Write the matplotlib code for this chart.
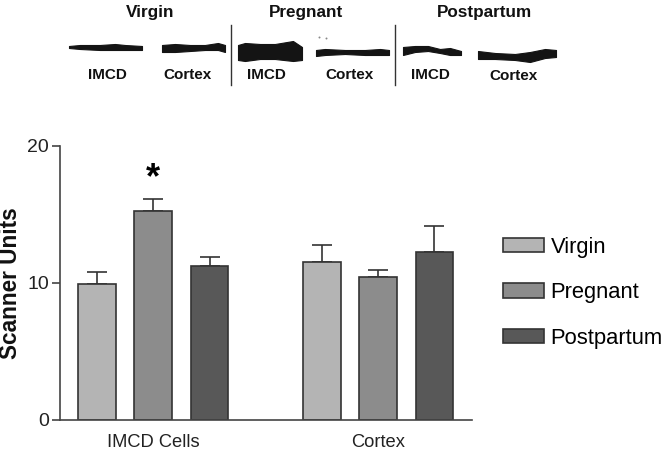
import numpy as np
from matplotlib import pyplot as plt

plt.rcParams['font.family'] = ['Liberation Sans', 'DejaVu Sans']

series = ['Virgin', 'Pregnant', 'Postpartum']
groups = ['IMCD Cells', 'Cortex']
colors = ['#b4b4b4', '#8c8c8c', '#585858']
positions = [[0, 4], [1, 5], [2, 6]]
means = [[9.9, 11.5], [15.2, 10.4], [11.25, 12.25]]
errors = [[0.85, 1.25], [0.9, 0.5], [0.6, 1.85]]
yticks = [0, 10, 20]

blot_x = [
    [69, 80, 100, 115, 125, 142],
    [162, 175, 190, 205, 218, 225],
    [238, 245, 260, 275, 293, 302],
    [316, 325, 345, 365, 380, 389],
    [403, 415, 428, 440, 450, 461],
    [478, 495, 515, 530, 545, 556],
]
blot_top = [
    [46, 45, 45, 44, 45, 46],
    [45, 44, 45, 45, 43, 45],
    [45, 43, 44, 44, 41, 47],
    [50, 49, 50, 50, 49, 50],
    [47, 46, 46, 49, 48, 51],
    [51, 53, 54, 52, 49, 50],
]
blot_bottom = [
    [48, 49, 50, 50, 50, 50],
    [52, 52, 51, 50, 50, 52],
    [60, 61, 59, 59, 61, 60],
    [56, 55, 54, 55, 55, 55],
    [55, 52, 51, 53, 55, 55],
    [59, 59, 60, 62, 58, 57],
]
speck_x = [319, 326]
speck_y = [37, 38]
blot_labels = ['IMCD', 'Cortex', 'IMCD', 'Cortex', 'IMCD', 'Cortex']
blot_label_x = [107, 187, 266, 349, 430, 513]
blot_label_y = [75, 75, 75, 75, 75, 76]
strip_titles = ['Virgin', 'Pregnant', 'Postpartum']
strip_title_x = [150, 306, 484]
divider_x = [231, 395]

fig = plt.figure(figsize=(6.63, 4.51), dpi=100)

'''Bar chart'''
ax = fig.add_axes([60/663, 1 - 420/451, 412/663, 274.5/451])
for i in range(3):
    ax.bar(positions[i], means[i], width=0.67, color=colors[i], edgecolor='#333333',
           linewidth=1.2, label=series[i], zorder=2)
    ax.errorbar(positions[i], means[i], yerr=[np.zeros(2), errors[i]], fmt='none',
                ecolor='#333333', elinewidth=1.2, capsize=7, capthick=1.2, zorder=1)

ax.set_xlim(-0.658, 6.667)
ax.set_ylim(0, 20)
ax.set_yticks(yticks)
ax.set_xticks([1, 5], groups, fontsize=13.2, color='#222222')
ax.tick_params(axis='x', length=0, pad=10)
ax.tick_params(axis='y', labelsize=14, length=6, width=1.2, color='#444444',
               labelcolor='#222222', pad=2)
ax.spines['top'].set_visible(False)
ax.spines['right'].set_visible(False)
ax.spines['left'].set_color('#444444')
ax.spines['bottom'].set_color('#444444')
ax.spines['left'].set_linewidth(1.2)
ax.spines['bottom'].set_linewidth(1.2)
ax.set_ylabel('Scanner Units', fontsize=16.3, fontweight='bold', color='#111111')
ax.yaxis.set_label_coords(-38/412, 0.5)
ax.legend(loc='upper left', bbox_to_anchor=(503/663, 1 - 236.5/451), bbox_transform=fig.transFigure,
          frameon=False, fontsize=15.8, handlelength=1.87, handleheight=0.64,
          handletextpad=0.3, labelspacing=1.12, borderpad=0, borderaxespad=0)
ax.text(1, 17.6, '*', fontsize=26, fontweight='bold', ha='center', va='center')

'''Blot strip, drawn in image pixels'''
top = fig.add_axes([0, 0, 1, 1])
top.set_xlim(0, 663)
top.set_ylim(451, 0)
top.axis('off')
top.patch.set_alpha(0)
for i in range(6):
    top.fill_between(blot_x[i], blot_top[i], blot_bottom[i], color='#141414', linewidth=0.8)
    top.text(blot_label_x[i], blot_label_y[i], blot_labels[i], fontsize=11, fontweight='bold',
             ha='center', va='center', color='#111111')
top.scatter(speck_x, speck_y, s=2, color='#888888', linewidths=0)
for i in range(3):
    top.text(strip_title_x[i], 12, strip_titles[i], fontsize=12.3, fontweight='bold',
             ha='center', va='center', color='#111111')
for x in divider_x:
    top.plot([x, x], [25, 85], color='#333333', linewidth=1)

plt.savefig('out.png', dpi=100)
